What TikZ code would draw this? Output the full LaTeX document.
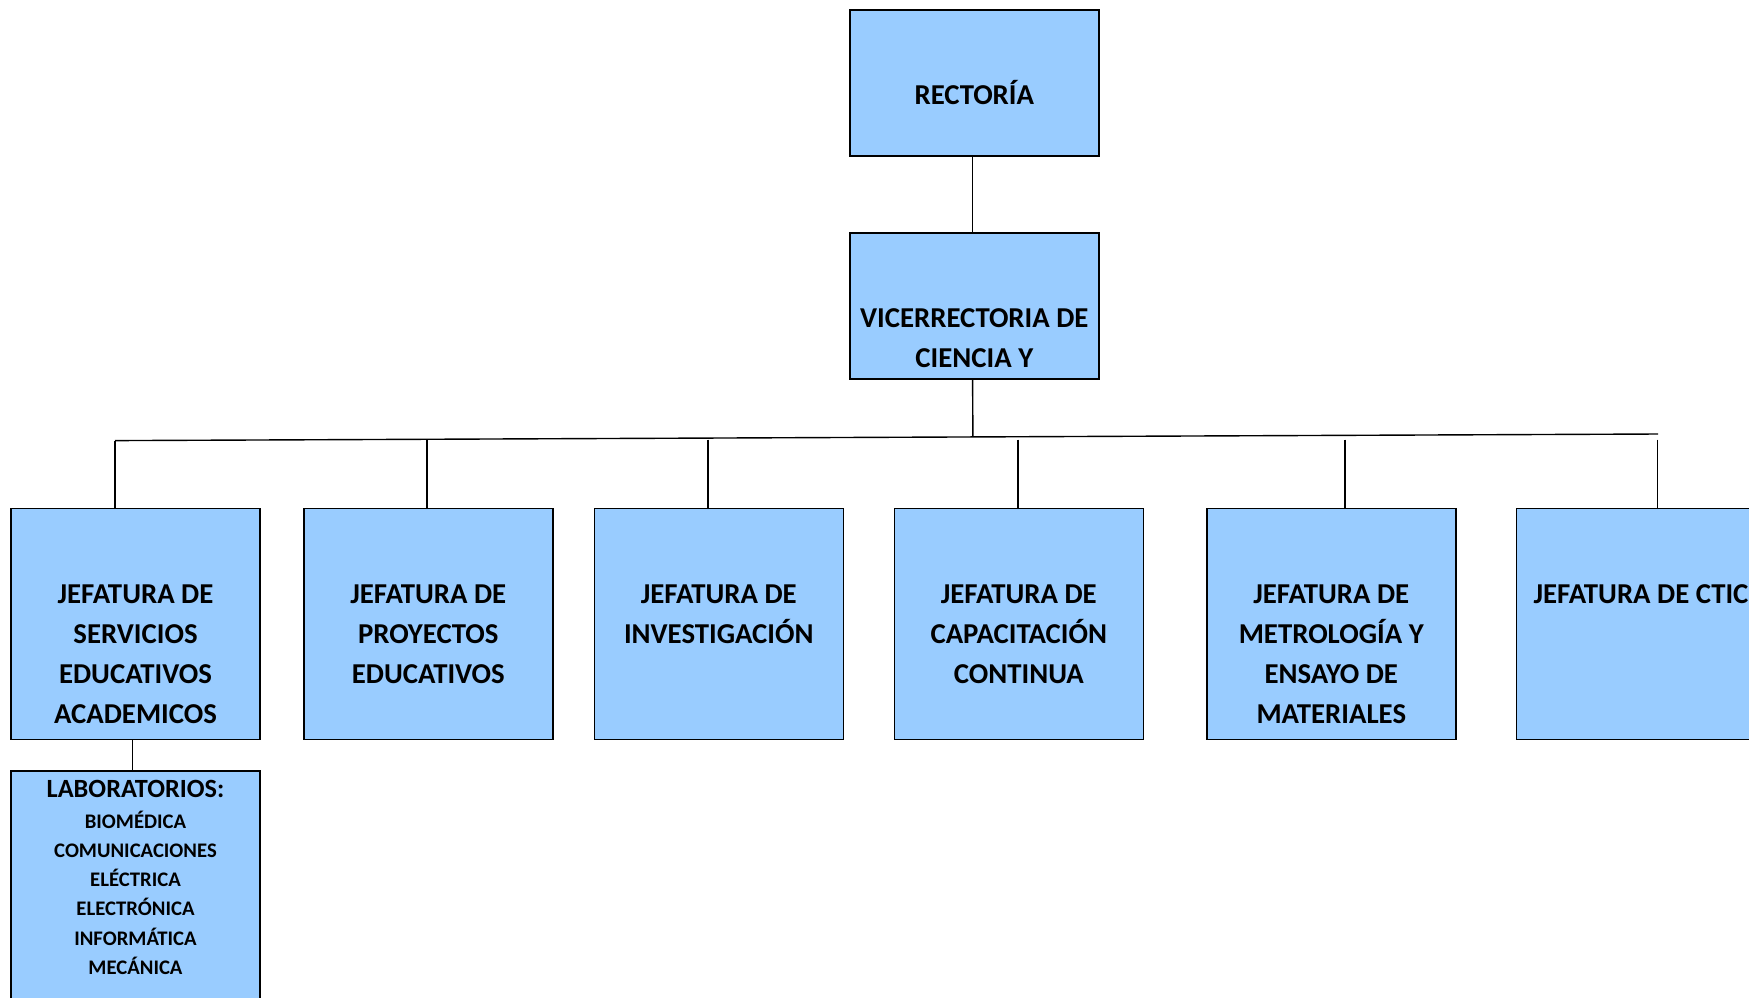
\documentclass[tikz,border=0pt]{standalone}
\usepackage{fontspec}
\setmainfont{Carlito}
\usetikzlibrary{calc}
\definecolor{boxblue}{HTML}{99CCFF}
% invisible strut fixing the height of the first text line
\newcommand\lnstrut{\rule{0pt}{30pt}}
\begin{document}
\begin{tikzpicture}[x=1pt,y=-1pt,
  unit/.style={draw=black, line width=1.5pt, fill=boxblue,
    minimum width=249pt, minimum height=231pt, inner sep=0pt},
  unittop/.style={unit, minimum height=146pt},
  caption/.style={font=\bfseries\fontsize{28.8}{40}\selectfont, align=center,
    anchor=north, inner sep=0pt},
  labhead/.style={font=\bfseries\fontsize{26.3}{30}\selectfont, anchor=base, inner sep=0pt},
  lablist/.style={font=\bfseries\fontsize{20.7}{29.2}\selectfont, align=center,
    anchor=north, inner sep=0pt},
  link/.style={line width=1.4pt}]
\useasboundingbox (0,0) rectangle (1749,997);
\clip (0,0) rectangle (1749,997);

% boxes
\node[unittop] (rect) at (974.3,83) {};
\node[unittop] (vice) at (974.3,306) {};
\node[unit] (b1) at (135.5,624) {};
\node[unit] (b2) at (428.3,624) {};
\node[unit] (b3) at (718.8,624) {};
\node[unit] (b4) at (1018.8,624) {};
\node[unit] (b5) at (1331.3,624) {};
\node[unit] (b6) at (1641,624) {};
\node[unit, minimum height=260pt] (lab) at (135.5,901) {};

% captions
\node[caption] (trect) at ([yshift=-65.1pt]rect.north) {\lnstrut RECTORÍA};
\node[caption] (tvice) at ([yshift=-65.1pt]vice.north) {\lnstrut VICERRECTORIA DE\\CIENCIA Y};
\node[caption] (tb1) at ([yshift=-65.1pt]b1.north) {\lnstrut JEFATURA DE\\SERVICIOS\\EDUCATIVOS\\ACADEMICOS};
\node[caption] (tb2) at ([yshift=-65.1pt]b2.north) {\lnstrut JEFATURA DE\\PROYECTOS\\EDUCATIVOS};
\node[caption] (tb3) at ([yshift=-65.1pt]b3.north) {\lnstrut JEFATURA DE\\INVESTIGACIÓN};
\node[caption] (tb4) at ([yshift=-65.1pt]b4.north) {\lnstrut JEFATURA DE\\CAPACITACIÓN\\CONTINUA};
\node[caption] (tb5) at ([yshift=-65.1pt]b5.north) {\lnstrut JEFATURA DE\\METROLOGÍA Y\\ENSAYO DE\\MATERIALES};
\node[caption] (tb6) at ([yshift=-65.1pt]b6.north) {\lnstrut JEFATURA DE CTIC};
\node[labhead] (tlab) at ([yshift=-27pt]lab.north) {LABORATORIOS:};
\node[lablist] (tlist) at ([yshift=-10.8pt]lab.north |- tlab.base) {\rule{0pt}{20pt}BIOMÉDICA\\COMUNICACIONES\\ELÉCTRICA\\ELECTRÓNICA\\INFORMÁTICA\\MECÁNICA};

% connectors
\draw[link] ([xshift=-1.7pt]rect.south) -- ([xshift=-1.7pt]vice.north);
\coordinate (busL) at (115,440.6);
\coordinate (busR) at (1658,434);
\draw[link] (busL) -- (busR);
\coordinate (jV) at ($(busL)!0.556!(busR)$);
\draw[link] ([xshift=-1.7pt]vice.south) -- (jV);
\coordinate (t1) at (115,440.6);
\coordinate (t2) at (427,439.3);
\coordinate (t3) at (708,439.5);
\coordinate (t4) at (1018,439.5);
\coordinate (t5) at (1345,439.5);
\coordinate (t6) at (1657.5,439.5);
\foreach \i in {1,...,6}{
  \draw[link] (t\i) -- (t\i |- b\i.north);
}
\draw[link] ([xshift=-2.8pt]b1.south) -- ([xshift=-2.8pt]lab.north);
\end{tikzpicture}
\end{document}
